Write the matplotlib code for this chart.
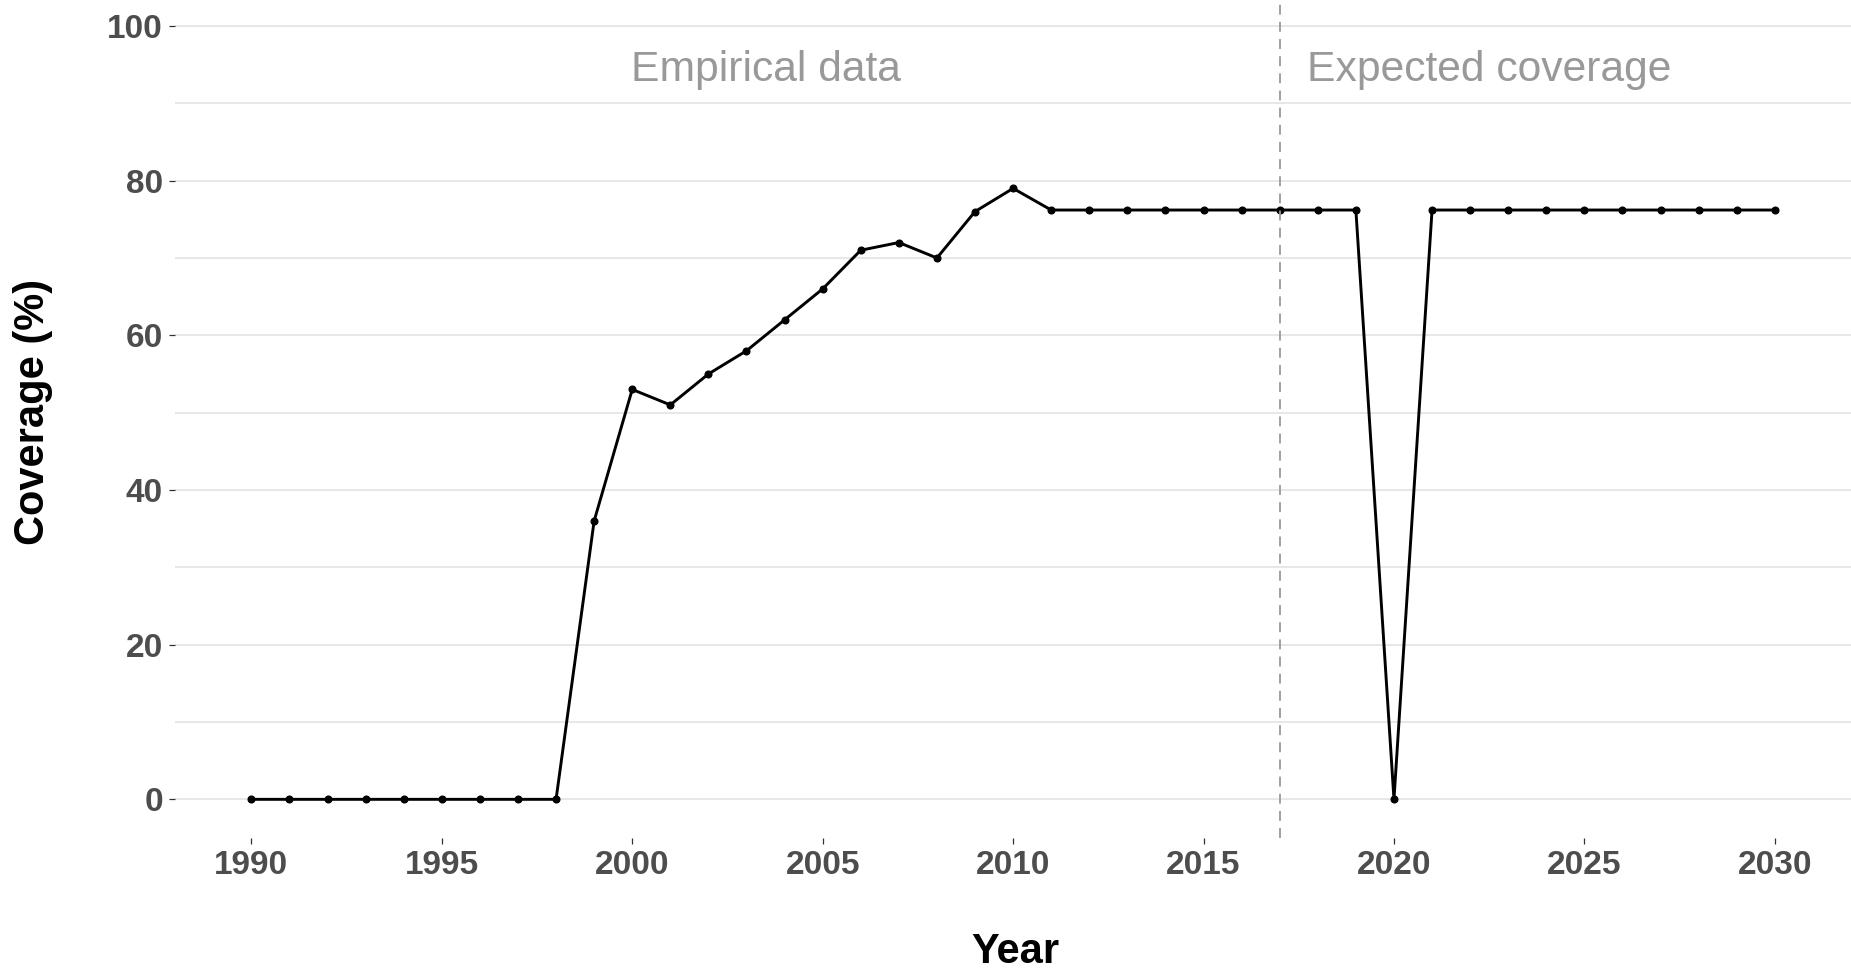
import matplotlib
matplotlib.use("Agg")
import matplotlib.pyplot as plt

plt.rcParams['font.family'] = ['Liberation Sans', 'DejaVu Sans']

years = list(range(1990, 2031))
coverage = [0, 0, 0, 0, 0, 0, 0, 0, 0, 36,
            53, 51, 55, 58, 62, 66, 71, 72, 70, 76,
            79, 76.2, 76.2, 76.2, 76.2, 76.2, 76.2, 76.2, 76.2, 76.2,
            0, 76.2, 76.2, 76.2, 76.2, 76.2, 76.2, 76.2, 76.2, 76.2,
            76.2]
cutoff_year = 2017
labels = ["Empirical data", "Expected coverage"]
label_x = [2003.5, 2022.5]
label_y = 94.3
x_ticks = [1990, 1995, 2000, 2005, 2010, 2015, 2020, 2025, 2030]
y_ticks = [0, 20, 40, 60, 80, 100]

W, H = 1851, 973
fig = plt.figure(figsize=(W / 100, H / 100), dpi=100)
ax = fig.add_axes([175.2 / W, 1 - 838 / H, 1 - 175.2 / W, 838 / H])

ax.set_xlim(1988, 2032)
ax.set_ylim(-5, 100 + 26 / 7.744)

grid_c = '#E3E3E3'
for yv in range(0, 101, 10):
    ax.axhline(yv, color=grid_c, lw=1.2, zorder=0)

ax.plot(years, coverage, color='black', lw=2.1, marker='o', markersize=4.8,
        zorder=3, solid_joinstyle='miter')
ax.axvline(cutoff_year, color='#9A9A9A', lw=1.3, ls=(0, (5.5, 4)), zorder=4)

for t, xv in zip(labels, label_x):
    ax.text(xv, label_y, t, ha='center', va='center', fontsize=30.7,
            color='#999999')

for s in ax.spines.values():
    s.set_visible(False)

ax.set_xticks(x_ticks)
ax.set_yticks(y_ticks)
ax.set_xticklabels([str(v) for v in x_ticks])
ax.set_yticklabels([str(v) for v in y_ticks])
ax.tick_params(axis='both', length=4.5, width=0.9, color='#333333',
               labelsize=24, labelcolor='#4D4D4D', pad=4.3)
for lab in ax.get_xticklabels() + ax.get_yticklabels():
    lab.set_fontweight('bold')

fig.text(860 * 1.1805 / W, 1 - 952 / H, "Year", ha='center', va='center',
         fontsize=30, fontweight='bold', color='black')
fig.text(33 / W, 1 - 412 / H, "Coverage (%)", ha='center', va='center',
         rotation=90, fontsize=30, fontweight='bold', color='black')

fig.savefig("out.png", dpi=100, facecolor='white')
